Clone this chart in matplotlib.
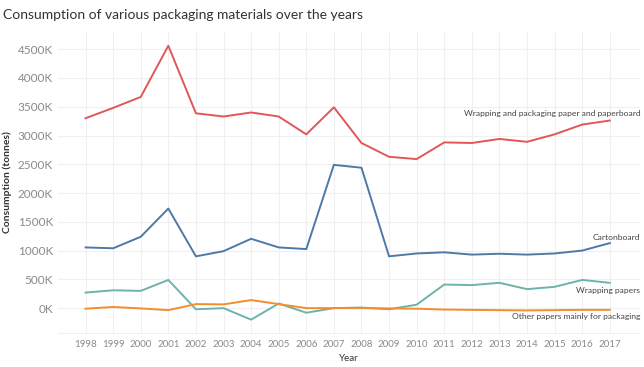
import matplotlib
matplotlib.use("Agg")
import matplotlib.pyplot as plt
from matplotlib.ticker import FuncFormatter, MultipleLocator

plt.rcParams['font.family'] = ['Lato', 'DejaVu Sans']

# Données (tonnes)
years = list(range(1998, 2018))
wrapping_packaging = [3300, 3480, 3670, 4560, 3386, 3330, 3400, 3330, 3020, 3490,
                      2870, 2630, 2590, 2880, 2870, 2940, 2890, 3020, 3190, 3260]
cartonboard = [1055, 1040, 1240, 1730, 900, 990, 1205, 1055, 1026, 2490,
               2440, 900, 950, 970, 930, 945, 930, 950, 1000, 1130]
wrapping_papers = [270, 310, 300, 490, -20, 0, -200, 80, -80, 0,
                   10, -20, 60, 410, 400, 440, 330, 370, 490, 440]
other_papers = [-10, 20, -5, -35, 70, 65, 140, 70, 0, 0,
                0, -5, -10, -25, -30, -35, -40, -35, -30, -30]

series = [
    ("Wrapping and packaging paper and paperboard", wrapping_packaging, "#e15759", 3380),
    ("Cartonboard", cartonboard, "#4e79a7", 1230),
    ("Wrapping papers", wrapping_papers, "#6db3aa", 300),
    ("Other papers mainly for packaging", other_papers, "#f28e2b", -150),
]

fig = plt.figure(figsize=(6.44, 3.67), dpi=100)
ax = fig.add_axes([0.090, 0.093, 0.904, 0.820])

for name, vals, color, label_y in series:
    ax.plot(years, [v * 1000 for v in vals], color=color, linewidth=1.4, zorder=3)
    ax.text(2018.1, label_y * 1000, name, ha="right", va="center",
            fontsize=6.1, color="#444444", zorder=4)

ax.set_xlim(1997, 2018.1)
ax.set_ylim(-430000, 4800000)
ax.set_xticks(years)
ax.yaxis.set_major_locator(MultipleLocator(500000))
ax.yaxis.set_major_formatter(FuncFormatter(lambda v, p: f"{v/1000:.0f}K"))
ax.tick_params(axis="both", length=0, colors="#8a8a8a", labelsize=8.5)
ax.tick_params(axis="x", labelsize=7, pad=5)
ax.grid(True, color="#f0f0f0", linewidth=0.8, zorder=0)
for s in ax.spines.values():
    s.set_visible(False)
ax.spines["bottom"].set_visible(True)
ax.spines["bottom"].set_color("#f0f0f0")

ax.set_ylabel("Consumption (tonnes)", fontsize=7.5, color="#333333", fontweight="bold")
ax.set_xlabel("Year", fontsize=7, color="#333333", labelpad=4)

fig.text(0.005, 0.975, "Consumption of various packaging materials over the years",
         fontsize=10, color="#333333", ha="left", va="top")

fig.savefig("out.png", dpi=100)
